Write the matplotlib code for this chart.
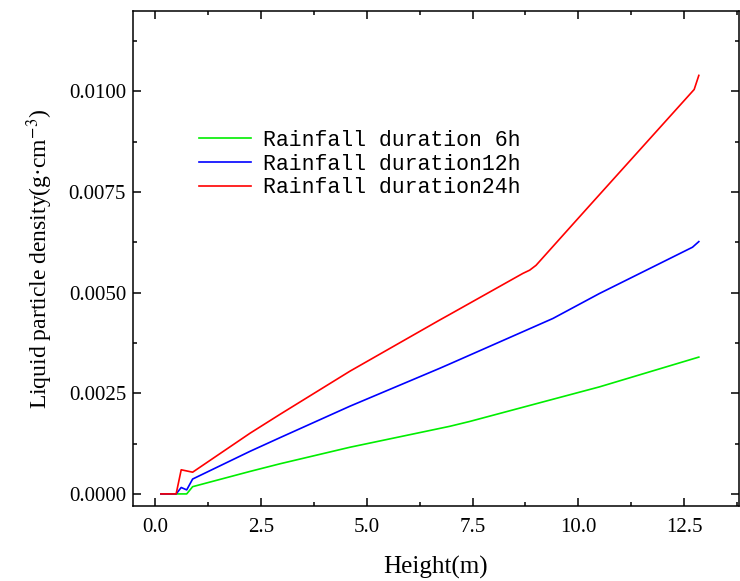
import numpy as np
import matplotlib
matplotlib.use("Agg")
import matplotlib.pyplot as plt
from matplotlib.ticker import MultipleLocator, FormatStrFormatter

plt.rcParams["mathtext.fontset"] = "stix"

# values
x_6h = [0.13, 0.74, 0.88, 2.24, 2.95, 4.6, 6.96, 7.43, 9.32, 10.5, 12.85]
y_6h = [0.0, 0.0, 0.00018, 0.00056, 0.00075, 0.00116, 0.00168, 0.0018, 0.00233, 0.00266, 0.0034]

x_12h = [0.13, 0.49, 0.61, 0.74, 0.88, 2.24, 2.95, 4.6, 6.72, 6.96, 9.4, 10.5, 12.7, 12.85]
y_12h = [0.0, 0.0, 0.00016, 0.0001, 0.00037, 0.00106, 0.0014, 0.00218, 0.00312, 0.00323, 0.00436, 0.00498, 0.00613, 0.00627]

x_24h = [0.13, 0.49, 0.61, 0.88, 2.24, 2.95, 4.6, 6.72, 6.96, 8.69, 8.85, 9.0, 9.87, 10.34, 11.12, 12.74, 12.85]
y_24h = [0.0, 0.0, 0.0006, 0.00054, 0.00151, 0.00198, 0.00305, 0.00432, 0.00446, 0.00548, 0.00556, 0.00568, 0.0067, 0.00725, 0.00816, 0.01005, 0.0104]

labels = ["Rainfall duration 6h", "Rainfall duration12h", "Rainfall duration24h"]
colors = ["#00ee00", "#0000ff", "#ff0000"]

W, H = 740, 581
fig = plt.figure(figsize=(W / 100, H / 100), dpi=100)
ax = fig.add_axes([133 / W, 1 - 506 / H, (739 - 133) / W, (506 - 11) / H])

for xs, ys, lab, c in zip([x_6h, x_12h, x_24h], [y_6h, y_12h, y_24h], labels, colors):
    ax.plot(xs, ys, color=c, lw=1.2, label=lab)

ax.set_xlim(-0.53, 13.8)
ax.set_ylim(-0.0003, 0.012)
ax.xaxis.set_major_locator(MultipleLocator(2.5))
ax.xaxis.set_minor_locator(MultipleLocator(1.25))
ax.yaxis.set_major_locator(MultipleLocator(0.0025))
ax.yaxis.set_minor_locator(MultipleLocator(0.00125))
ax.xaxis.set_major_formatter(FormatStrFormatter("%.1f"))
ax.yaxis.set_major_formatter(FormatStrFormatter("%.4f"))

ax.tick_params(which="both", direction="in", top=True, right=True, width=1.1)
ax.tick_params(which="major", length=6)
ax.tick_params(which="minor", length=3)
for s in ax.spines.values():
    s.set_linewidth(1.1)

tfont = "Liberation Serif"
for t in ax.get_xticklabels() + ax.get_yticklabels():
    t.set_fontfamily(tfont)
    t.set_fontsize(15)
ax.tick_params(axis="x", pad=9)
ax.tick_params(axis="y", pad=5)

ax.set_xlabel("Height(m)", fontfamily=tfont, fontsize=18, labelpad=13)
ax.set_ylabel("Liquid particle density(g\u00b7cm$^{-3}$)", fontfamily=tfont, fontsize=17, labelpad=10)

leg = ax.legend(loc="upper left", bbox_to_anchor=(199 / W, 1 - 130 / H),
                bbox_transform=fig.transFigure, frameon=False,
                prop={"family": "Liberation Mono", "size": 15.5},
                handlelength=2.4, handletextpad=0.55, labelspacing=0.12,
                borderpad=0, borderaxespad=0)

fig.savefig("out.png", dpi=100)
